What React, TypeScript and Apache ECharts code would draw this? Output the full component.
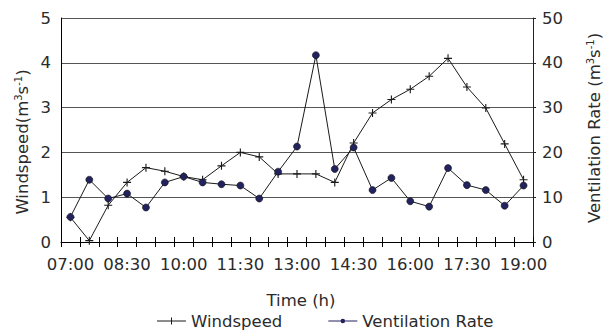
import React, { useEffect, useRef } from "react";
import * as echarts from "echarts";

const categories = [
  "07:00", "07:30", "08:00", "08:30", "09:00", "09:30", "10:00", "10:30", "11:00",
  "11:30", "12:00", "12:30", "13:00", "13:30", "14:00", "14:30", "15:00", "15:30",
  "16:00", "16:30", "17:00", "17:30", "18:00", "18:30", "19:00",
];
const windspeed = [
  0.55, 0.03, 0.82, 1.33, 1.66, 1.58, 1.46, 1.39, 1.7, 2.0, 1.9, 1.52, 1.52,
  1.52, 1.33, 2.21, 2.88, 3.18, 3.41, 3.7, 4.1, 3.46, 2.99, 2.19, 1.39,
];
const ventilation = [
  5.6, 13.9, 9.7, 10.8, 7.7, 13.3, 14.6, 13.3, 12.9, 12.6, 9.7, 15.7, 21.3,
  41.7, 16.3, 21.1, 11.6, 14.3, 9.1, 7.9, 16.5, 12.7, 11.6, 8.1, 12.6,
];
const leftTicks = [0, 1, 2, 3, 4, 5];
const rightTicks = [0, 10, 20, 30, 40, 50];

const FONT = "DejaVu Sans";
const FS = 16.5;
const TXT = "#2b2b2b";
const PLUS = "path://M4.3,0H5.7V4.3H10V5.7H5.7V10H4.3V5.7H0V4.3H4.3Z";
const LEG_PLUS = "path://M0,3H29V4H0Z M14,0H15V7H14Z";
const LEG_DOT = "path://M0,2.6H29V3.4H0Z M12.2,3A2.3,2.3 0 1,1 16.8,3A2.3,2.3 0 1,1 12.2,3Z";

export default function App() {
  const ref = useRef<HTMLDivElement>(null);
  useEffect(() => {
    if (!ref.current) return;
    const chart = echarts.init(ref.current, null, { renderer: "svg" });
    const supRich = {
      sup: { fontSize: 10, fontFamily: FONT, fill: TXT, verticalAlign: "top", lineHeight: 14 },
    };
    chart.setOption({
      animation: false,
      textStyle: { fontFamily: FONT },
      grid: { left: 61, right: 74, top: 18, bottom: 90, containLabel: false },
      legend: {
        left: 157,
        top: 312,
        padding: 0,
        itemWidth: 29,
        itemHeight: 7,
        itemGap: 46,
        symbolKeepAspect: true,
        textStyle: { fontFamily: FONT, fontSize: FS, color: TXT, lineHeight: 18 },
        data: [
          { name: "Windspeed", icon: LEG_PLUS, itemStyle: { color: "#1a1a1a", borderWidth: 0 } },
          { name: "Ventilation Rate", icon: LEG_DOT, itemStyle: { color: "#22235e", borderWidth: 0 } },
        ],
      },
      xAxis: [
        {
          type: "category",
          data: categories,
          boundaryGap: true,
          position: "bottom",
          axisLine: { show: true, lineStyle: { color: "#000", width: 1 } },
          axisTick: { show: true, interval: 0, length: 5, inside: false, lineStyle: { color: "#000" } },
          axisLabel: { interval: 2, margin: 14, fontFamily: FONT, fontSize: FS, color: TXT },
          splitLine: { show: false },
        },
        {
          type: "category",
          data: categories,
          boundaryGap: true,
          position: "bottom",
          axisLine: { show: false },
          axisTick: { show: true, interval: 0, length: 5, inside: true, lineStyle: { color: "#000" } },
          axisLabel: { show: false },
          splitLine: { show: false },
        },
      ],
      yAxis: [
        {
          type: "value",
          min: leftTicks[0],
          max: leftTicks[leftTicks.length - 1],
          interval: 1,
          position: "left",
          axisLine: { show: true, lineStyle: { color: "#000", width: 1 } },
          axisTick: { show: false },
          axisLabel: { margin: 10, fontFamily: FONT, fontSize: FS, color: TXT, padding: [5, 0, 0, 0] },
          splitLine: { show: true, lineStyle: { color: "#555", width: 1 } },
        },
        {
          type: "value",
          min: rightTicks[0],
          max: rightTicks[rightTicks.length - 1],
          interval: 10,
          position: "right",
          axisLine: { show: true, lineStyle: { color: "#222", width: 1 } },
          axisTick: { show: true, length: 3, lineStyle: { color: "#222" } },
          axisLabel: { margin: 9, fontFamily: FONT, fontSize: FS, color: TXT, padding: [3, 0, 0, 0] },
          splitLine: { show: false },
        },
      ],
      series: [
        {
          name: "Windspeed",
          type: "line",
          xAxisIndex: 0,
          yAxisIndex: 0,
          data: windspeed,
          symbol: PLUS,
          symbolSize: 8,
          showAllSymbol: true,
          lineStyle: { color: "#1a1a1a", width: 1 },
          itemStyle: { color: "#1a1a1a", borderWidth: 0 },
          z: 2,
        },
        {
          name: "Ventilation Rate",
          type: "line",
          xAxisIndex: 0,
          yAxisIndex: 1,
          data: ventilation,
          symbol: "circle",
          symbolSize: 7,
          showAllSymbol: true,
          lineStyle: { color: "#1a1a1a", width: 1 },
          itemStyle: { color: "#22235e", borderColor: "#111", borderWidth: 0.6 },
          z: 3,
        },
      ],
      graphic: [
        {
          type: "text",
          x: 22,
          y: 142,
          rotation: Math.PI / 2,
          style: {
            text: "Windspeed(m{sup|3}s{sup|-1})",
            fontFamily: FONT,
            fontSize: FS,
            fill: TXT,
            align: "center",
            verticalAlign: "middle",
            rich: supRich,
          },
        },
        {
          type: "text",
          x: 594,
          y: 128,
          rotation: Math.PI / 2,
          style: {
            text: "Ventilation Rate (m{sup|3}s{sup|-1})",
            fontFamily: FONT,
            fontSize: FS,
            fill: TXT,
            align: "center",
            verticalAlign: "middle",
            rich: supRich,
          },
        },
        {
          type: "text",
          x: 301,
          y: 300,
          style: {
            text: "Time (h)",
            fontFamily: FONT,
            fontSize: FS,
            fill: TXT,
            align: "center",
            verticalAlign: "middle",
          },
        },
      ],
    });
    return () => chart.dispose();
  }, []);
  return <div ref={ref} style={{ width: 607, height: 332, position: "absolute", left: 0, top: 0 }} />;
}
